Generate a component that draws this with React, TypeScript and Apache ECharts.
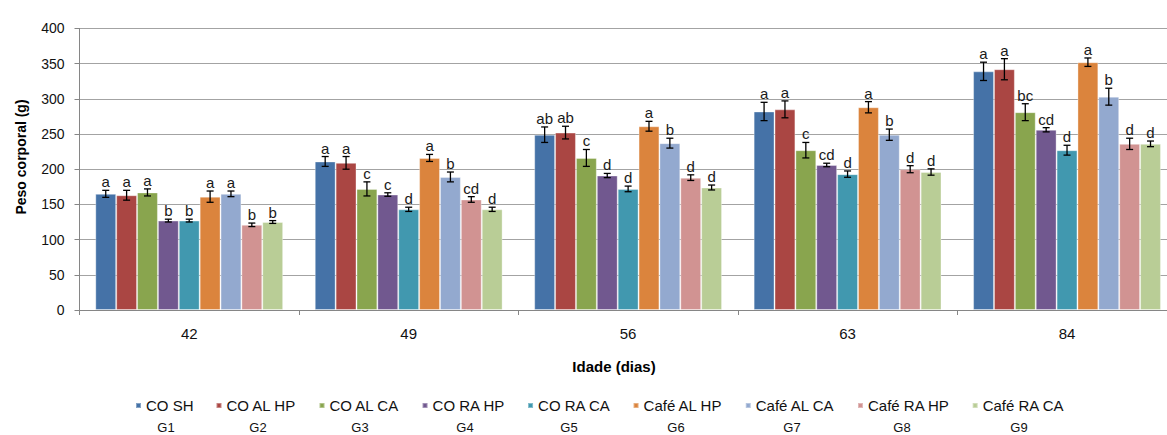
import React, { useEffect, useRef } from "react";
import * as echarts from "echarts";

// Ages (days) on the category axis
const ages = ["42", "49", "56", "63", "84"];

// Group names and their legend codes
const groupNames = ["CO SH", "CO AL HP", "CO AL CA", "CO RA HP", "CO RA CA", "Café AL HP", "Café AL CA", "Café RA HP", "Café RA CA"];
const groupCodes = ["G1", "G2", "G3", "G4", "G5", "G6", "G7", "G8", "G9"];
const groupColors = ["#4572A7", "#AA4643", "#89A54E", "#71588F", "#4198AF", "#DB843D", "#93A9CF", "#D19392", "#B9CD96"];

// Mean body weight (g) per age
const coSH = [165, 211, 249, 282, 339];
const coALHP = [163, 209, 252, 285, 342];
const coALCA = [167, 172, 216, 227, 281];
const coRAHP = [127, 164, 191, 206, 256];
const coRACA = [127, 143, 172, 193, 227];
const cafeALHP = [161, 216, 261, 288, 352];
const cafeALCA = [165, 189, 237, 249, 303];
const cafeRAHP = [121, 157, 188, 200, 236];
const cafeRACA = [125, 143, 174, 196, 236];

// Standard error (g) per age
const coSHErr = [5, 7, 11, 13, 13];
const coALHPErr = [7, 9, 9, 12, 15];
const coALCAErr = [5, 10, 12, 11, 12];
const coRAHPErr = [2, 2.5, 3, 2.5, 3];
const coRACAErr = [2, 3, 4, 4.5, 7];
const cafeALHPErr = [8, 5, 7, 8, 6];
const cafeALCAErr = [4, 7, 7, 8, 12];
const cafeRAHPErr = [2.5, 4, 4, 5, 8];
const cafeRACAErr = [2, 3, 3.5, 4.5, 4];

// Significance letters per age
const coSHSig = ["a", "a", "ab", "a", "a"];
const coALHPSig = ["a", "a", "ab", "a", "a"];
const coALCASig = ["a", "c", "c", "c", "bc"];
const coRAHPSig = ["b", "c", "d", "cd", "cd"];
const coRACASig = ["b", "d", "d", "d", "d"];
const cafeALHPSig = ["a", "a", "a", "a", "a"];
const cafeALCASig = ["a", "b", "b", "b", "b"];
const cafeRAHPSig = ["b", "cd", "d", "d", "d"];
const cafeRACASig = ["b", "d", "d", "d", "d"];

// Y axis ticks
const yMin = 0;
const yMax = 400;
const yStep = 50;

const means = [coSH, coALHP, coALCA, coRAHP, coRACA, cafeALHP, cafeALCA, cafeRAHP, cafeRACA];
const errors = [coSHErr, coALHPErr, coALCAErr, coRAHPErr, coRACAErr, cafeALHPErr, cafeALCAErr, cafeRAHPErr, cafeRACAErr];
const sigs = [coSHSig, coALHPSig, coALCASig, coRAHPSig, coRACASig, cafeALHPSig, cafeALCASig, cafeRAHPSig, cafeRACASig];

// Horizontal centres of the legend texts, where the group codes sit
const codeX = [166, 258, 360, 465, 569, 676, 792, 902, 1019];

const FONT = "'Liberation Sans', Arial, sans-serif";
const CATEGORY_GAP = 0.144;

export default function App() {
  const ref = useRef<HTMLDivElement>(null);

  useEffect(() => {
    if (!ref.current) return;
    const chart = echarts.init(ref.current, undefined, { renderer: "svg" });
    const n = groupNames.length;

    const barSeries = groupNames.map((name, i) => ({
      name,
      type: "bar",
      data: means[i],
      barGap: "0%",
      barCategoryGap: `${CATEGORY_GAP * 100}%`,
      itemStyle: { color: groupColors[i], borderColor: "rgba(255,255,255,0.35)", borderWidth: 1 },
      z: 2,
    }));

    const errSeries = groupNames.map((name, i) => ({
      name,
      type: "custom",
      z: 5,
      data: means[i].map((v, k) => [k, v, errors[i][k]]),
      renderItem: (params: any, api: any) => {
        const ci = api.value(0);
        const v = api.value(1);
        const e = api.value(2);
        const band = api.size([1, 0])[0];
        const barW = (band * (1 - CATEGORY_GAP)) / n;
        const x = api.coord([ci, v])[0] + (i - (n - 1) / 2) * barW;
        const yTop = api.coord([ci, v + e])[1];
        const yBot = api.coord([ci, v - e])[1];
        const cap = 3.5;
        const lineStyle = { stroke: "#000", lineWidth: 1.3 };
        return {
          type: "group",
          children: [
            { type: "line", shape: { x1: x, y1: yTop, x2: x, y2: yBot }, style: lineStyle },
            { type: "line", shape: { x1: x - cap, y1: yTop, x2: x + cap, y2: yTop }, style: lineStyle },
            { type: "line", shape: { x1: x - cap, y1: yBot, x2: x + cap, y2: yBot }, style: lineStyle },
            {
              type: "text",
              x,
              y: yTop - 1,
              style: {
                text: sigs[i][params.dataIndex],
                fill: "#1a1a1a",
                font: `15px ${FONT}`,
                align: "center",
                verticalAlign: "bottom",
                textAlign: "center",
                textVerticalAlign: "bottom",
              },
            },
          ],
        };
      },
    }));

    chart.setOption({
      animation: false,
      textStyle: { fontFamily: FONT },
      grid: { left: 79.5, right: -9.75, top: 28.4, bottom: 125, containLabel: false, outerBoundsMode: "none" },
      legend: {
        data: groupNames,
        left: 130,
        top: 393,
        icon: "rect",
        itemWidth: 5,
        itemHeight: 5,
        itemGap: 22,
        textStyle: { fontSize: 15, color: "#111", fontFamily: FONT },
      },
      xAxis: {
        type: "category",
        data: ages,
        axisLine: { lineStyle: { color: "#868686", width: 1 } },
        axisTick: { show: true, length: 5, alignWithLabel: false, interval: 0, lineStyle: { color: "#868686" } },
        axisLabel: { fontSize: 15, color: "#111", margin: 16, fontFamily: FONT },
        splitLine: { show: false },
      },
      yAxis: {
        type: "value",
        min: yMin,
        max: yMax,
        interval: yStep,
        axisLine: { show: true, lineStyle: { color: "#868686", width: 1 } },
        axisTick: { show: true, length: 5, lineStyle: { color: "#868686" } },
        axisLabel: { fontSize: 14, color: "#111", margin: 15, fontFamily: FONT },
        splitLine: { show: true, lineStyle: { color: "#a3a3a3", width: 1 } },
      },
      graphic: [
        {
          type: "text",
          x: 21,
          y: 157,
          rotation: Math.PI / 2,
          style: {
            text: "Peso corporal (g)",
            font: `bold 14px ${FONT}`,
            fill: "#000",
            textAlign: "center",
            textVerticalAlign: "middle",
            align: "center",
            verticalAlign: "middle",
          },
        },
        {
          type: "text",
          x: 614,
          y: 366,
          style: {
            text: "Idade (dias)",
            font: `bold 15px ${FONT}`,
            fill: "#000",
            textAlign: "center",
            textVerticalAlign: "middle",
            align: "center",
            verticalAlign: "middle",
          },
        },
        ...groupCodes.map((code, k) => ({
          type: "text",
          x: codeX[k],
          y: 427,
          style: {
            text: code,
            font: `13px ${FONT}`,
            fill: "#111",
            textAlign: "center",
            textVerticalAlign: "middle",
            align: "center",
            verticalAlign: "middle",
          },
        })),
      ],
      series: [...barSeries, ...errSeries],
    });

    return () => chart.dispose();
  }, []);

  return <div ref={ref} style={{ position: "absolute", left: 0, top: 0, width: 1167, height: 435 }} />;
}
